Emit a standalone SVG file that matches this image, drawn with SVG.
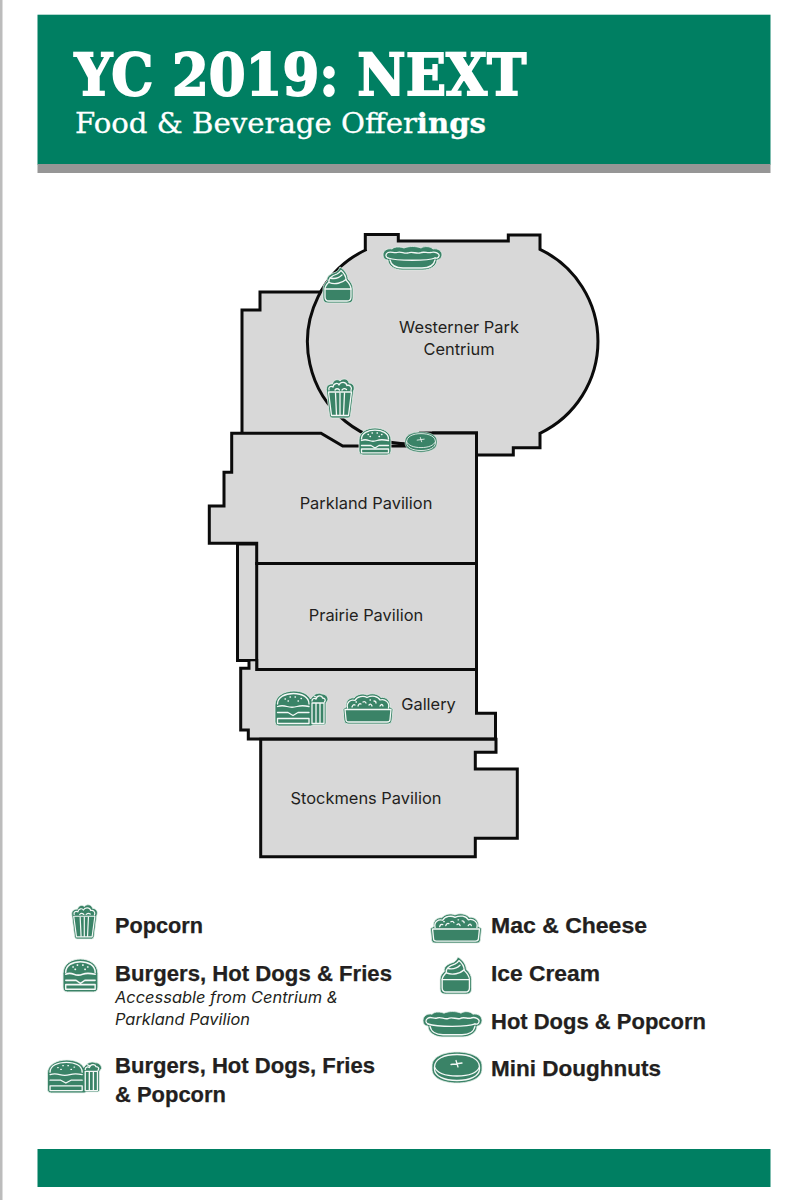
<svg xmlns="http://www.w3.org/2000/svg" xmlns:xlink="http://www.w3.org/1999/xlink" width="805" height="1200" viewBox="0 0 805 1200">
<style>
.a{fill:#d8d8d8;stroke:#0b0b0b;stroke-width:3;stroke-linejoin:miter}
.f{fill:#d8d8d8;stroke:none}
.l{fill:none;stroke:#0b0b0b;stroke-width:3}
.m{font-family:"Inter","Liberation Sans",sans-serif;font-size:16.4px;fill:#231f20;text-anchor:middle}
.b{font-family:"Liberation Sans",Arial,sans-serif;font-weight:700;font-size:22.5px;fill:#231f20;stroke:#231f20;stroke-width:.25px}
.i{font-family:"Inter","Liberation Sans",sans-serif;font-style:italic;font-size:15.5px;fill:#231f20}
.g{fill:#3a8367;stroke:#e6efea;stroke-width:.8}
.w{fill:none;stroke:#f4f8f6;stroke-width:1.3;stroke-linecap:round;stroke-linejoin:round}
.i2{fill:#3a8367}
</style>
<defs>
<g id="popcorn">
<path class="g" d="M1.500,13 C0.500,8 4,5.500 7.500,6 C8.500,1.500 13,0.500 15,3 C18,-0.500 23,0.500 24,5 C28,5 30.500,9 28.500,13 L25.500,37.500 Q25,40 23,40 H7 Q5,40 4.500,37.500 Z"/>
<path class="w" d="M3.500,14 L6.500,37.500 H23.500 L26.500,14 Z"/>
<path class="w" d="M10.500,15 L11.500,37 M15,15 V37 M19.500,15 L18.500,37"/>
<path class="w" d="M4,12 C3,9 6,7.500 8,9 C8.500,5 13,4.500 14,7 C15.500,3.500 21,3.500 22,7.500 C24.500,6.500 27.500,9 26,12.500 M10,12 Q12,9.500 14.500,12 M17,12 Q19,9.500 21.500,11.500"/>
</g>
<g id="burger">
<path class="g" d="M0,12 C0,4 8,0 16,0 C24,0 32,4 32,12 V23 Q32,27 28,27 H4 Q0,27 0,23 Z"/>
<path class="w" d="M2.500,11 C2.500,5 9,2.200 16,2.200 C23,2.200 29.500,5 29.500,11"/>
<path class="w" d="M9,6.500 h.5 M13,5 h.5 M18,5 h.5 M22.500,6.500 h.5 M11,8.500 h.5 M20,8.500 h.5"/>
<path class="w" d="M2.500,12.500 Q6,11 10,12.500 T18,12.500 T29.500,12.500 M2.500,17.500 H12 L16,20 L20,17.500 H29.500"/>
<path class="w" d="M2.500,21 H29.500 V24.800 H2.500 Z"/>
</g>
<g id="combo">
<path class="g" d="M0,14 C0,5 9,0 19,0 C27,0 33,3 35.500,8 L37,6 C39,3 44,1 47,3 C50,3 53,5 53,9 L51,12 V32 Q51,34 49,34 H38 L36,35 H4 Q0,35 0,31 Z"/>
<path class="w" d="M2.500,13 C2.500,6 10,2.500 18.500,2.500 C27,2.500 34,6 34,13"/>
<path class="w" d="M10,8 h.5 M15,6 h.5 M20,6 h.5 M26,7.500 h.5 M13,10 h.5 M23,10 h.5"/>
<path class="w" d="M2.500,15.500 Q7,14 12,15.500 T22,15.500 T34,15.500 M2.500,21.500 H13 L18,24.500 L23,21.500 H34"/>
<path class="w" d="M2.500,27.500 H34 V32.500 H2.500 Z"/>
<path class="w" d="M37,12 H49 V32.500 H37 Z M41,12 V32.500 M45,12 V32.500"/>
<path class="w" d="M37,10 C37,7 40,7 41,8 C42,4 47,4 47.500,7 C50,7 51,9 49.500,11 M39,5 L42,6.500"/>
</g>
<g id="mac">
<path class="g" d="M0,16 L3,14 C2,7 8,4 11,5 C14,1 20,0 24,2 C29,-0.500 35,1 38,4.500 C43,3.500 48,8 47,14 L50,16 L49,27 Q49,31 45,31 H5 Q1,31 1,27 Z"/>
<path class="w" d="M2,16.500 H48 L47,26.500 Q47,29 44,29 H6 Q3,29 3,26.500 Z"/>
<path class="w" d="M4.500,15 C3,9 8,6 12,7.500 C14,3 21,2.500 24,4.500 C29,2 35,3 37,7 C42,5.500 47,9.500 45.500,15"/>
<path class="w" d="M9,14 q1,-3 3,-2 M15,13 q1,-3 3,-2 M20,9 q2,-1 3,1 M26,12 q2,-2 3,1 M31,8 q2,0 2,2 M37,13 q2,-3 3,0 M13,9 h.5 M27,7 h.5"/>
</g>
<g id="icecream">
<path class="g" d="M1,22 C1,18 3,16 5,14 C4,8 11,6 14,5 C16,4 17,2 18,0 C23,3 26,8 26,12 C29,15 31,18 31,22 V31 Q31,36 26,36 H6 Q1,36 1,31 Z"/>
<path class="w" d="M3,22 C3,19 5,17 7,15 C6,10 12,8 15,7 C17,6 18,5 19,3.500 C22,6 24,9 24,13 C27,16 29,19 29,22 V30 Q29,34 25,34 H7 Q3,34 3,30 Z"/>
<path class="w" d="M3,22 H29"/>
<path class="w" d="M7,15.500 C13,18 20,16 24,12.500 M8,11 C12,12 17,11 20,8"/>
</g>
<g id="hotdog">
<path class="g" d="M0,9 C0,4 5,2 9,3 C12,0 18,1 21,2 C26,0 33,0 38,2 C41,0 47,0 50,3 C55,2 59,5 59,9 C59,12 56,14 54,14 C54,20 47,24 40,24 H19 C12,24 5,20 5,14 C2,14 0,12 0,9 Z"/>
<path class="w" d="M5,12 C2.500,11 2,8 5,6.500 C8,5 11,7.500 14,6.500 C18,5 21,8 25,7 C29,5 33,8 37,7 C41,5 44,7.500 48,6.500 C52,5 57,8 56,10 C55.500,12 54,12.500 52,12"/>
<path class="w" d="M5,12 C14,15 45,15 52,12"/>
<path class="w" d="M7,14 C8,19 13,22 20,22 H39 C46,22 51,19 52,14"/>
</g>
<g id="puck">
<path class="g" d="M0,14 C0,5 11,0 25,0 C39,0 50,5 50,14 V17 C50,26 39,31 25,31 C11,31 0,26 0,17 Z"/>
<path class="w" d="M2.500,15 C2.500,7 12,2.500 25,2.500 C38,2.500 47.500,7 47.500,15 V17 C47.500,24 38,28.500 25,28.500 C12,28.500 2.500,24 2.500,17 Z"/>
<path class="w" d="M2.500,15 C5,21 14,24 25,24 C36,24 45,21 47.500,15"/>
<path class="w" d="M19,12.500 L30,11 M24,8.500 L26,15"/>
</g>
</defs>
<rect width="805" height="1200" fill="#fff"/>
<rect x="0" y="0" width="2.500" height="1200" fill="#bcbcbc"/>
<g id="header">
<rect x="37.500" y="14.700" width="733" height="150" fill="#007f62"/>
<rect x="37.500" y="164" width="733" height="9" fill="#969696"/>
<text x="74.500" y="94.500" font-family="'DejaVu Serif','Liberation Serif',serif" font-weight="700" font-size="57" fill="#fff" stroke="#fff" stroke-width="1.800" textLength="452" lengthAdjust="spacingAndGlyphs">YC 2019: NEXT</text>
<text x="75" y="133" font-family="'DejaVu Serif','Liberation Serif',serif" font-size="27" fill="#fff" stroke="#fff" stroke-width=".3" textLength="411" lengthAdjust="spacingAndGlyphs">Food &amp; Beverage Offer<tspan font-weight="700">ings</tspan></text>
</g>
<g id="footer"><rect x="37.500" y="1149" width="733" height="38" fill="#007f62"/></g>

<g id="annex">
<path class="f" d="M242,434 V310 H260 V292 H380 V448 H242 Z"/>
<path class="l" d="M242,435 V310 H260 V292 H325"/>
</g>
<g id="centrium">
<path class="a" d="M365.300,249.500 V234.500 H398.300 V241 H508.300 V235 H540 V249.300 A102,102 0 0 1 540,433.300 V447.700 H513.300 V455 H476.500 V433 H420 L409.500,444 A102,102 0 0 1 366.500,249.500 Z"/>
</g>
<g id="strip">
<path class="f" d="M237.500,544 V660.500 H257 V544 Z"/>
<path class="l" d="M257,544 H237.500 V660.500 H250"/>
</g>
<g id="parkland">
<path class="a" d="M231.700,433.300 H321 L342.700,446 H420 L433,433 H476.500 V563.500 H256.700 V543.300 H209.300 V506 H224 V472.300 H231.700 Z"/>
</g>
<g id="prairie">
<rect class="a" x="256.700" y="563.500" width="219.800" height="106"/>
</g>
<g id="gallery">
<path class="a" d="M240.700,668.300 H249 V660.500 H256.700 V669.500 H476.500 V713.300 H495.500 V739 H248.300 V730 H240.700 Z"/>
<path class="f" d="M250.500,661.300 H255.200 V662.200 H250.500 Z"/>
</g>
<g id="stockmens">
<path class="a" d="M260.700,739.300 H496 V752.300 H475.300 V769 H517.300 V838.300 H475.300 V856.700 H260.700 Z"/>
</g>

<text class="m" x="459" y="333">Westerner Park</text>
<text class="m" x="459" y="355">Centrium</text>
<text class="m" x="366" y="509">Parkland Pavilion</text>
<text class="m" x="366" y="621">Prairie Pavilion</text>
<text class="m" x="428.500" y="710">Gallery</text>
<text class="m" x="366" y="804">Stockmens Pavilion</text>

<g id="map-hotdog"><use xlink:href="#hotdog" href="#hotdog" transform="translate(383,246)"/></g>
<g id="map-icecream"><use xlink:href="#icecream" href="#icecream" transform="translate(322,267)"/></g>
<g id="map-popcorn"><use xlink:href="#popcorn" href="#popcorn" transform="translate(325,378)"/></g>
<g id="map-burger"><use xlink:href="#burger" href="#burger" transform="translate(359,428)"/></g>
<g id="map-puck"><use xlink:href="#puck" href="#puck" transform="translate(405,432) scale(.64,.65)"/></g>
<g id="map-combo"><use xlink:href="#combo" href="#combo" transform="translate(275,691)"/></g>
<g id="map-mac"><use xlink:href="#mac" href="#mac" transform="translate(343,693)"/></g>

<g id="legend-popcorn"><use xlink:href="#popcorn" href="#popcorn" transform="translate(70.500,904) scale(.92,.875)"/><text class="b" x="115" y="933" textLength="88" lengthAdjust="spacingAndGlyphs">Popcorn</text></g>
<g id="legend-burger"><use xlink:href="#burger" href="#burger" transform="translate(63,959) scale(1.09,1.22)"/><text class="b" x="115" y="981" textLength="277" lengthAdjust="spacingAndGlyphs">Burgers, Hot Dogs &amp; Fries</text>
<text class="i" x="115" y="1003" textLength="223" lengthAdjust="spacingAndGlyphs">Accessable from Centrium &amp;</text>
<text class="i" x="115" y="1025" textLength="135" lengthAdjust="spacingAndGlyphs">Parkland Pavilion</text></g>
<g id="legend-combo"><use xlink:href="#combo" href="#combo" transform="translate(47.500,1060) scale(1.02,.94)"/><text class="b" x="115" y="1073" textLength="260" lengthAdjust="spacingAndGlyphs">Burgers, Hot Dogs, Fries</text>
<text class="b" x="115" y="1102" textLength="111" lengthAdjust="spacingAndGlyphs">&amp; Popcorn</text></g>
<g id="legend-mac"><use xlink:href="#mac" href="#mac" transform="translate(430.500,913) scale(1.02,.97)"/><text class="b" x="491" y="933" textLength="156" lengthAdjust="spacingAndGlyphs">Mac &amp; Cheese</text></g>
<g id="legend-icecream"><use xlink:href="#icecream" href="#icecream" transform="translate(439,957) scale(1.05,1.03)"/><text class="b" x="491" y="981" textLength="109" lengthAdjust="spacingAndGlyphs">Ice Cream</text></g>
<g id="legend-hotdog"><use xlink:href="#hotdog" href="#hotdog" transform="translate(423,1011) scale(1,1.08)"/><text class="b" x="491" y="1029" textLength="215" lengthAdjust="spacingAndGlyphs">Hot Dogs &amp; Popcorn</text></g>
<g id="legend-puck"><use xlink:href="#puck" href="#puck" transform="translate(432,1052)"/><text class="b" x="491" y="1076" textLength="170" lengthAdjust="spacingAndGlyphs">Mini Doughnuts</text></g>
</svg>
